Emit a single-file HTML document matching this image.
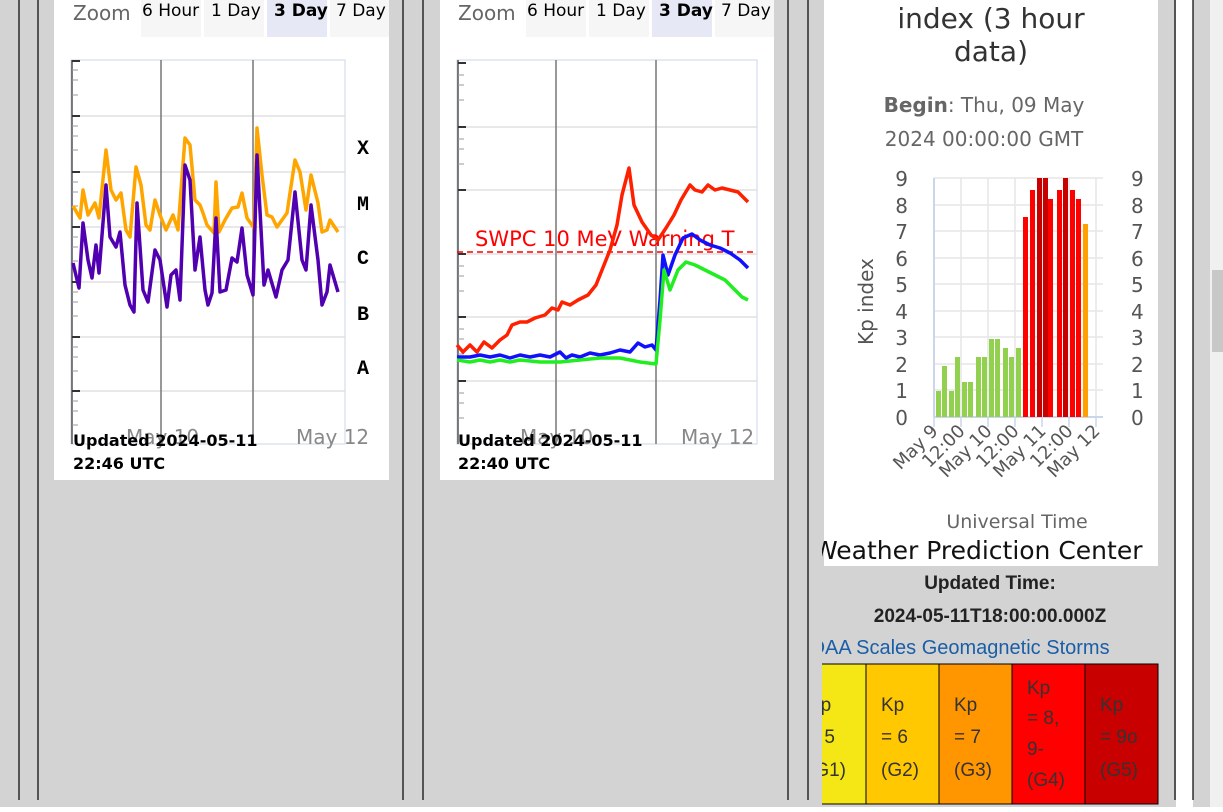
<!DOCTYPE html>
<html><head><meta charset="utf-8"><style>
body{margin:0;width:1223px;height:807px;overflow:hidden;background:#fff;font-family:"Liberation Sans",sans-serif}
</style></head><body>
<svg width="1223" height="807" xmlns="http://www.w3.org/2000/svg" font-family="DejaVu Sans, Liberation Sans, sans-serif">
<defs><clipPath id="c3"><rect x="822" y="0" width="340" height="807"/></clipPath></defs>
<rect width="1223" height="807" fill="#d3d3d3"/>
<rect x="1176" y="0" width="17" height="807" fill="#fff"/>
<rect x="1210" y="0" width="13" height="807" fill="#f0f0f0"/>
<rect x="1212" y="270" width="11" height="82" fill="#c8c8c8"/>
<g stroke="#000" stroke-width="1.2">
<line x1="19" y1="0" x2="19" y2="800"/><line x1="38" y1="0" x2="38" y2="800"/>
<line x1="403" y1="0" x2="403" y2="800"/><line x1="423" y1="0" x2="423" y2="800"/>
<line x1="788" y1="0" x2="788" y2="800"/><line x1="808" y1="0" x2="808" y2="800"/>
<line x1="1175" y1="0" x2="1175" y2="800"/><line x1="1193" y1="0" x2="1193" y2="800"/>
</g>
<!-- card 1 -->
<rect x="54" y="0" width="335" height="480" fill="#fff"/>
<text x="73" y="20" font-size="20" fill="#666">Zoom</text>
<rect x="141" y="0" width="60" height="37" fill="#f6f6f6"/><rect x="204" y="0" width="60" height="37" fill="#f6f6f6"/><rect x="267" y="0" width="60" height="37" fill="#e6e9f5"/><rect x="330" y="0" width="59" height="37" fill="#f6f6f6"/>
<text x="142" y="16" font-size="17">6 Hour</text><text x="211" y="16" font-size="17">1 Day</text><text x="274" y="16" font-size="17" font-weight="bold">3 Day</text><text x="336" y="16" font-size="17">7 Day</text>
<rect x="71" y="60" width="274" height="384" fill="none" stroke="#ccd6eb"/>
<g stroke="#e0e0e0" stroke-width="1.5"><line x1="71" y1="116" x2="345" y2="116"/><line x1="71" y1="172" x2="345" y2="172"/><line x1="71" y1="227" x2="345" y2="227"/><line x1="71" y1="282" x2="345" y2="282"/><line x1="71" y1="337" x2="345" y2="337"/><line x1="71" y1="391" x2="345" y2="391"/></g>
<line x1="72" y1="60" x2="72" y2="444" stroke="#555" stroke-width="1.5"/>
<line x1="161" y1="60" x2="161" y2="444" stroke="#777" stroke-width="1.5"/><line x1="253" y1="60" x2="253" y2="444" stroke="#777" stroke-width="1.5"/>
<g stroke="#333" stroke-width="2"><line x1="72" y1="61" x2="80" y2="61"/><line x1="72" y1="116" x2="80" y2="116"/><line x1="72" y1="172" x2="80" y2="172"/><line x1="72" y1="227" x2="80" y2="227"/><line x1="72" y1="282" x2="80" y2="282"/><line x1="72" y1="337" x2="80" y2="337"/><line x1="72" y1="391" x2="80" y2="391"/></g>
<g stroke="#999" stroke-width="1"><line x1="72" y1="70" x2="78" y2="70"/><line x1="72" y1="80" x2="78" y2="80"/><line x1="72" y1="95" x2="78" y2="95"/><line x1="72" y1="126" x2="78" y2="126"/><line x1="72" y1="136" x2="78" y2="136"/><line x1="72" y1="150" x2="78" y2="150"/><line x1="72" y1="182" x2="78" y2="182"/><line x1="72" y1="192" x2="78" y2="192"/><line x1="72" y1="206" x2="78" y2="206"/><line x1="72" y1="237" x2="78" y2="237"/><line x1="72" y1="247" x2="78" y2="247"/><line x1="72" y1="261" x2="78" y2="261"/><line x1="72" y1="292" x2="78" y2="292"/><line x1="72" y1="302" x2="78" y2="302"/><line x1="72" y1="316" x2="78" y2="316"/><line x1="72" y1="347" x2="78" y2="347"/><line x1="72" y1="357" x2="78" y2="357"/><line x1="72" y1="371" x2="78" y2="371"/><line x1="72" y1="401" x2="78" y2="401"/><line x1="72" y1="411" x2="78" y2="411"/><line x1="72" y1="425" x2="78" y2="425"/></g>
<polyline fill="none" stroke="#ffa500" stroke-width="3.5" stroke-linejoin="round" points="73,206 80,218 83,190 88,215 95,203 99,218 106,150 111,190 116,200 121,193 126,230 130,237 136,167 141,185 146,225 150,230 155,200 160,215 166,230 173,215 178,230 185,138 190,145 195,200 200,205 203,213 207,225 214,233 216,182 219,232 225,220 232,208 238,207 242,193 247,218 254,228 257,128 262,175 267,215 272,217 277,227 287,213 295,160 300,172 306,210 311,175 318,203 322,232 327,230 330,220 338,232"/>
<polyline fill="none" stroke="#5000b0" stroke-width="3.5" stroke-linejoin="round" points="73,263 79,288 83,223 88,260 92,278 96,245 99,273 106,185 110,237 116,247 120,232 125,285 130,305 134,312 137,203 143,290 148,302 155,250 160,260 167,307 171,275 176,270 180,300 185,165 190,180 195,270 200,237 205,290 208,305 212,293 216,218 220,292 226,290 232,258 237,262 242,228 247,275 253,295 257,155 264,285 268,270 276,297 282,270 288,260 295,192 302,260 306,270 311,205 318,260 322,305 327,292 330,265 338,292"/>
<g font-family="Liberation Mono, monospace" font-weight="bold" font-size="20"><text x="357" y="154">X</text><text x="357" y="210">M</text><text x="357" y="264">C</text><text x="357" y="320">B</text><text x="357" y="374">A</text></g>
<text x="126" y="444" font-size="20" fill="#888">May 10</text><text x="296" y="444" font-size="20" fill="#888">May 12</text>
<g font-family="DejaVu Sans, sans-serif" font-weight="bold" font-size="16"><text x="73" y="446">Updated 2024-05-11</text><text x="73" y="469">22:46 UTC</text></g>
<!-- card 2 -->
<rect x="440" y="0" width="334" height="480" fill="#fff"/>
<text x="458" y="20" font-size="20" fill="#666">Zoom</text>
<rect x="526" y="0" width="60" height="37" fill="#f6f6f6"/><rect x="589" y="0" width="60" height="37" fill="#f6f6f6"/><rect x="652" y="0" width="60" height="37" fill="#e6e9f5"/><rect x="715" y="0" width="59" height="37" fill="#f6f6f6"/>
<text x="527" y="16" font-size="17">6 Hour</text><text x="596" y="16" font-size="17">1 Day</text><text x="659" y="16" font-size="17" font-weight="bold">3 Day</text><text x="721" y="16" font-size="17">7 Day</text>
<rect x="457" y="60" width="300" height="384" fill="none" stroke="#ccd6eb"/>
<g stroke="#e0e0e0" stroke-width="1.5"><line x1="457" y1="127" x2="757" y2="127"/><line x1="457" y1="190" x2="757" y2="190"/><line x1="457" y1="254" x2="757" y2="254"/><line x1="457" y1="317" x2="757" y2="317"/><line x1="457" y1="381" x2="757" y2="381"/></g>
<line x1="458" y1="60" x2="458" y2="444" stroke="#555" stroke-width="1.5"/>
<line x1="556" y1="60" x2="556" y2="444" stroke="#777" stroke-width="1.5"/><line x1="656" y1="60" x2="656" y2="444" stroke="#777" stroke-width="1.5"/>
<g stroke="#333" stroke-width="2"><line x1="458" y1="63" x2="466" y2="63"/><line x1="458" y1="127" x2="466" y2="127"/><line x1="458" y1="190" x2="466" y2="190"/><line x1="458" y1="254" x2="466" y2="254"/><line x1="458" y1="317" x2="466" y2="317"/><line x1="458" y1="381" x2="466" y2="381"/></g>
<g stroke="#999" stroke-width="1"><line x1="458" y1="75" x2="464" y2="75"/><line x1="458" y1="85" x2="464" y2="85"/><line x1="458" y1="100" x2="464" y2="100"/><line x1="458" y1="139" x2="464" y2="139"/><line x1="458" y1="149" x2="464" y2="149"/><line x1="458" y1="164" x2="464" y2="164"/><line x1="458" y1="266" x2="464" y2="266"/><line x1="458" y1="276" x2="464" y2="276"/><line x1="458" y1="291" x2="464" y2="291"/><line x1="458" y1="329" x2="464" y2="329"/><line x1="458" y1="339" x2="464" y2="339"/><line x1="458" y1="354" x2="464" y2="354"/><line x1="458" y1="393" x2="464" y2="393"/><line x1="458" y1="403" x2="464" y2="403"/><line x1="458" y1="418" x2="464" y2="418"/></g>
<line x1="457" y1="252" x2="757" y2="252" stroke="#f00" stroke-width="1.5" stroke-dasharray="6,4"/>
<text x="475" y="246" font-size="21" fill="#f00">SWPC 10 MeV Warning T</text>
<polyline fill="none" stroke="#ff2000" stroke-width="3.5" stroke-linejoin="round" points="457,345 463,352 470,345 477,352 484,342 492,348 500,340 507,335 512,325 520,322 527,322 535,318 545,315 552,308 558,310 562,302 570,305 578,300 588,295 596,285 602,270 610,250 617,225 622,195 629,168 634,205 642,222 651,235 658,240 666,228 674,215 681,200 690,185 695,190 702,192 708,185 715,190 722,188 730,190 738,192 748,202"/>
<polyline fill="none" stroke="#1010ff" stroke-width="3.5" stroke-linejoin="round" points="457,357 470,357 480,355 490,357 500,355 510,358 520,355 530,357 540,355 550,357 560,352 566,358 572,355 580,357 590,353 600,355 610,353 620,350 630,352 638,343 645,347 652,345 656,350 660,300 663,255 668,275 675,255 683,238 692,234 700,240 710,245 720,248 730,253 740,260 748,268"/>
<polyline fill="none" stroke="#20ee20" stroke-width="3.5" stroke-linejoin="round" points="457,360 470,362 480,360 490,362 500,360 510,362 520,360 540,362 560,362 580,360 600,358 620,358 640,362 656,364 660,320 664,270 670,290 678,270 686,262 695,265 705,270 715,275 725,280 735,290 742,297 748,300"/>
<text x="520" y="444" font-size="20" fill="#888">May 10</text><text x="681" y="444" font-size="20" fill="#888">May 12</text>
<g font-family="DejaVu Sans, sans-serif" font-weight="bold" font-size="16"><text x="458" y="446">Updated 2024-05-11</text><text x="458" y="469">22:40 UTC</text></g>
<!-- card 3 -->
<rect x="824" y="0" width="334" height="566" fill="#fff"/>
<text x="991" y="28" font-size="28" text-anchor="middle" fill="#333">index (3 hour</text>
<text x="991" y="61" font-size="28" text-anchor="middle" fill="#333">data)</text>
<text x="984" y="112" font-size="20" text-anchor="middle" fill="#666"><tspan font-weight="bold">Begin</tspan>: Thu, 09 May</text>
<text x="984" y="146" font-size="20" text-anchor="middle" fill="#666">2024 00:00:00 GMT</text>
<g stroke="#e6e6e6" stroke-width="1.5">
<line x1="934" y1="178" x2="1103" y2="178"/><line x1="934" y1="205" x2="1103" y2="205"/><line x1="934" y1="231" x2="1103" y2="231"/><line x1="934" y1="258" x2="1103" y2="258"/><line x1="934" y1="284" x2="1103" y2="284"/><line x1="934" y1="311" x2="1103" y2="311"/><line x1="934" y1="337" x2="1103" y2="337"/><line x1="934" y1="364" x2="1103" y2="364"/><line x1="934" y1="390" x2="1103" y2="390"/>
<line x1="961" y1="178" x2="961" y2="417"/><line x1="988" y1="178" x2="988" y2="417"/><line x1="1015" y1="178" x2="1015" y2="417"/><line x1="1042" y1="178" x2="1042" y2="417"/><line x1="1069" y1="178" x2="1069" y2="417"/><line x1="1096" y1="178" x2="1096" y2="417"/></g>
<line x1="934" y1="178" x2="934" y2="417" stroke="#ccd6eb" stroke-width="2"/>
<line x1="934" y1="417" x2="1103" y2="417" stroke="#ccd6eb" stroke-width="2"/>
<g stroke="#ccd6eb" stroke-width="1.5"><line x1="934" y1="417" x2="934" y2="427"/><line x1="961" y1="417" x2="961" y2="427"/><line x1="988" y1="417" x2="988" y2="427"/><line x1="1015" y1="417" x2="1015" y2="427"/><line x1="1042" y1="417" x2="1042" y2="427"/><line x1="1069" y1="417" x2="1069" y2="427"/><line x1="1096" y1="417" x2="1096" y2="427"/></g>
<g fill="#92d050">
<rect x="936" y="391" width="5" height="26"/><rect x="942" y="366" width="5" height="51"/><rect x="949" y="391" width="5" height="26"/><rect x="955" y="357" width="5" height="60"/><rect x="962" y="382" width="5" height="35"/><rect x="968" y="382" width="5" height="35"/><rect x="976" y="357" width="5" height="60"/><rect x="982" y="357" width="5" height="60"/><rect x="989" y="339" width="5" height="78"/><rect x="995" y="339" width="5" height="78"/><rect x="1003" y="348" width="5" height="69"/><rect x="1009" y="357" width="5" height="60"/><rect x="1016" y="348" width="5" height="69"/></g>
<g fill="#f00"><rect x="1023" y="217" width="5" height="200"/><rect x="1030" y="190" width="5" height="227"/><rect x="1048" y="199" width="5" height="218"/><rect x="1057" y="190" width="5" height="227"/><rect x="1070" y="190" width="5" height="227"/><rect x="1076" y="199" width="5" height="218"/></g>
<g fill="#c80000"><rect x="1037" y="178" width="5" height="239"/><rect x="1043" y="178" width="5" height="239"/><rect x="1063" y="178" width="5" height="239"/></g>
<rect x="1083" y="224" width="5" height="193" fill="#ffa000"/>
<g font-size="20" fill="#555" text-anchor="end"><text x="908" y="186">9</text><text x="908" y="213">8</text><text x="908" y="239">7</text><text x="908" y="266">6</text><text x="908" y="292">5</text><text x="908" y="319">4</text><text x="908" y="345">3</text><text x="908" y="372">2</text><text x="908" y="398">1</text><text x="908" y="425">0</text></g>
<g font-size="20" fill="#555"><text x="1131" y="186">9</text><text x="1131" y="213">8</text><text x="1131" y="239">7</text><text x="1131" y="266">6</text><text x="1131" y="292">5</text><text x="1131" y="319">4</text><text x="1131" y="345">3</text><text x="1131" y="372">2</text><text x="1131" y="398">1</text><text x="1131" y="425">0</text></g>
<text transform="translate(873,345) rotate(-90)" font-size="20" fill="#555">Kp index</text>
<g font-size="18" fill="#555" text-anchor="end">
<text transform="translate(939,432) rotate(-45)">May 9</text><text transform="translate(966,432) rotate(-45)">12:00</text><text transform="translate(993,432) rotate(-45)">May 10</text><text transform="translate(1020,432) rotate(-45)">12:00</text><text transform="translate(1047,432) rotate(-45)">May 11</text><text transform="translate(1074,432) rotate(-45)">12:00</text><text transform="translate(1101,432) rotate(-45)">May 12</text></g>
<text x="1017" y="528" font-size="19" fill="#666" text-anchor="middle">Universal Time</text>
<g clip-path="url(#c3)">
<text x="813" y="559" font-size="25" fill="#111">Weather Prediction Center</text>
<g font-family="Liberation Sans, sans-serif" font-weight="bold" font-size="19" fill="#222" text-anchor="middle"><text x="990" y="589">Updated Time:</text><text x="990" y="622">2024-05-11T18:00:00.000Z</text></g>
<text x="795" y="654" font-family="Liberation Sans, sans-serif" font-size="20" fill="#1a5ea8">NOAA Scales Geomagnetic Storms</text>
<g stroke="#000" stroke-width="1">
<rect x="810" y="664" width="56" height="140" fill="#f5e616"/><rect x="866" y="664" width="73" height="140" fill="#ffc800"/><rect x="939" y="664" width="73" height="140" fill="#ff9600"/><rect x="1012" y="664" width="73" height="140" fill="#ff0000"/><rect x="1085" y="664" width="73" height="140" fill="#c80000"/></g>
<g font-family="Liberation Sans, sans-serif" font-size="19" fill="#333">
<text x="808" y="711">Kp</text><text x="808" y="743">= 5</text><text x="808" y="776">(G1)</text>
<text x="881" y="711">Kp</text><text x="881" y="743">= 6</text><text x="881" y="776">(G2)</text>
<text x="954" y="711">Kp</text><text x="954" y="743">= 7</text><text x="954" y="776">(G3)</text>
<text x="1027" y="694">Kp</text><text x="1027" y="724">= 8,</text><text x="1027" y="755">9-</text><text x="1027" y="786">(G4)</text>
<text x="1100" y="711">Kp</text><text x="1100" y="743">= 9o</text><text x="1100" y="776">(G5)</text></g>
</g>
</svg>
</body></html>
